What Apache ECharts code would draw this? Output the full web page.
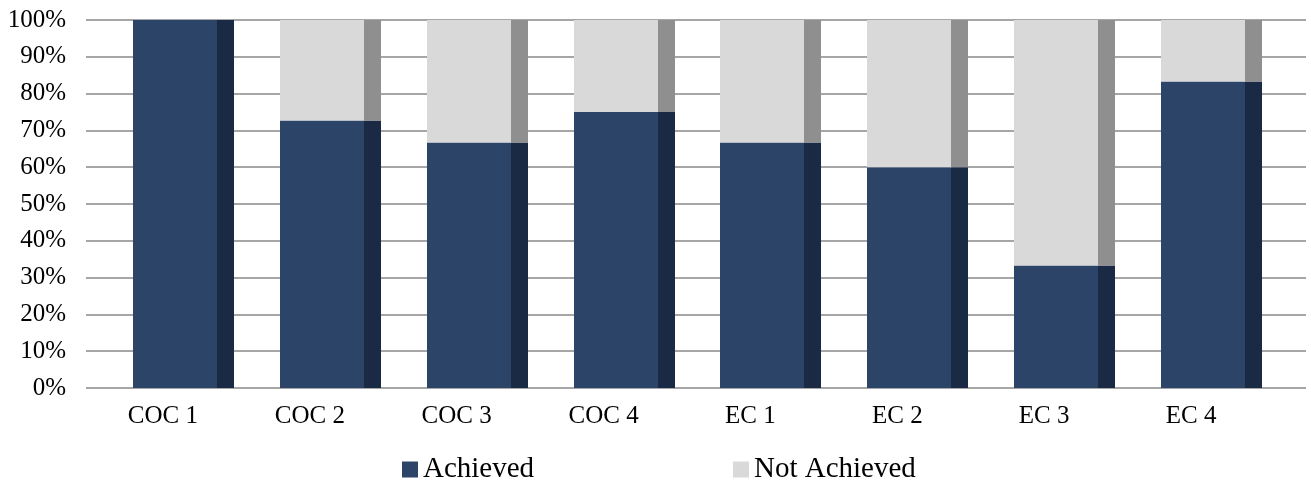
<!DOCTYPE html>
<html>
<head>
<meta charset="utf-8">
<style>
  html, body { margin: 0; padding: 0; background: #ffffff; }
  #chart { width: 1311px; height: 480px; }
</style>
<script src="https://cdn.jsdelivr.net/npm/echarts@6/dist/echarts.min.js"></script>
</head>
<body>
<div id="chart"></div>
<script>
// Outcome categories
const categories = ['COC 1', 'COC 2', 'COC 3', 'COC 4', 'EC 1', 'EC 2', 'EC 3', 'EC 4'];
// Share of students (%) per outcome
const achieved = [100, 72.7, 66.7, 75, 66.7, 60, 33.3, 83.3];
const notAchieved = [0, 27.3, 33.3, 25, 33.3, 40, 66.7, 16.7];
// Value-axis ticks
const yTicks = [0, 10, 20, 30, 40, 50, 60, 70, 80, 90, 100];

const FONT = '"Liberation Serif", "DejaVu Serif", serif';

const COLORS = {
  achieved: { front: '#2b4468', side: '#1a2a44' },
  notAchieved: { front: '#d9d9d9', side: '#8f8f8f' }
};

// Stacked segments as [categoryIndex, start, end]
const achievedSeg = achieved.map((v, i) => [i, 0, v]);
const notAchievedSeg = notAchieved.map((v, i) => [i, achieved[i], achieved[i] + v]);

// Pseudo-3D column: front face plus a darker side face
function prismRenderer(palette) {
  return function (params, api) {
    const i = api.value(0);
    const lo = api.coord([i, api.value(1)]);
    const hi = api.coord([i, api.value(2)]);
    const band = api.size([1, 0])[0];
    const frontX = Math.round(lo[0] - band * 0.204);
    const frontW = Math.round(band * 0.572);
    const sideW = Math.round(band * 0.116);
    const h = lo[1] - hi[1];
    if (h <= 0) return null;
    return {
      type: 'group',
      children: [
        { type: 'rect', shape: { x: frontX, y: hi[1], width: frontW + 1, height: h },
          style: { fill: palette.front } },
        { type: 'rect', shape: { x: frontX + frontW, y: hi[1], width: sideW, height: h },
          style: { fill: palette.side } }
      ]
    };
  };
}

const chart = echarts.init(document.getElementById('chart'), null, { renderer: 'canvas' });

chart.setOption({
  animation: false,
  backgroundColor: '#ffffff',
  grid: [
    // gridlines + percentage labels
    { left: 86, right: 5, top: 20, bottom: 92, containLabel: false },
    // columns + category labels
    { left: 89.5, width: 1175, top: 20, bottom: 92, containLabel: false }
  ],
  legend: [
    { data: ['Achieved'], left: 397, top: 450, itemWidth: 16, itemHeight: 16, icon: 'rect',
      textStyle: { fontFamily: FONT, fontSize: 29, color: '#000' } },
    { data: ['Not Achieved'], left: 728, top: 450, itemWidth: 16, itemHeight: 16, icon: 'rect',
      textStyle: { fontFamily: FONT, fontSize: 29, color: '#000' } }
  ],
  xAxis: [
    { gridIndex: 0, type: 'category', data: categories, show: false },
    { gridIndex: 1, type: 'category', data: categories,
      axisLine: { show: false }, axisTick: { show: false },
      axisLabel: { margin: 16, fontFamily: FONT, fontSize: 25, color: '#000' } }
  ],
  yAxis: [
    { gridIndex: 0, type: 'value', min: yTicks[0], max: yTicks[yTicks.length - 1], interval: 10,
      axisLine: { show: false }, axisTick: { show: false },
      axisLabel: { margin: 20, fontFamily: FONT, fontSize: 25, color: '#000',
        formatter: v => v + '%' },
      splitLine: { show: true, lineStyle: { color: '#a6a6a6', width: 2 } } },
    { gridIndex: 1, type: 'value', min: yTicks[0], max: yTicks[yTicks.length - 1], show: false }
  ],
  series: [
    { name: 'Achieved', type: 'custom', xAxisIndex: 1, yAxisIndex: 1,
      itemStyle: { color: COLORS.achieved.front },
      encode: { x: 0, y: [1, 2] },
      renderItem: prismRenderer(COLORS.achieved), data: achievedSeg },
    { name: 'Not Achieved', type: 'custom', xAxisIndex: 1, yAxisIndex: 1,
      itemStyle: { color: COLORS.notAchieved.front },
      encode: { x: 0, y: [1, 2] },
      renderItem: prismRenderer(COLORS.notAchieved), data: notAchievedSeg }
  ]
});
</script>
</body>
</html>
